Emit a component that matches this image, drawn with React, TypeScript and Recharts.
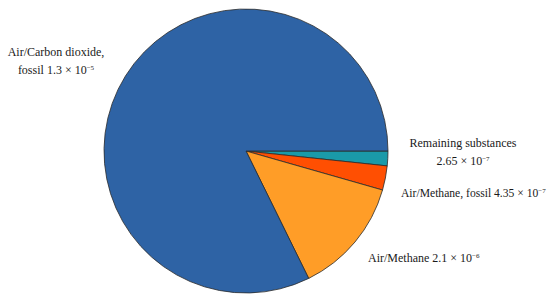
import { PieChart, Pie, Cell } from "recharts";

// contributions in kg CO2 eq (order: clockwise from 3 o'clock)
const names = [
  "Remaining substances",
  "Air/Methane, fossil",
  "Air/Methane",
  "Air/Carbon dioxide, fossil",
];
const values = [2.65e-7, 4.35e-7, 2.1e-6, 1.3e-5];
const mantissas = ["2.65", "4.35", "2.1", "1.3"];
const exponents = ["−7", "−7", "−6", "−5"];
const colors = ["#1a9aa9", "#ff4f02", "#ff9d27", "#2e63a5"];

const data = names.map((name, i) => ({ name, value: values[i] }));

const FONT = "'Liberation Serif', 'DejaVu Serif', serif";

// label placement relative to pie centre
const labelPos = [
  { dx: 217, dy: -4, anchor: "middle", lines: 2, first: "Remaining substances", size: 12 },
  { dx: 155, dy: 46, anchor: "start", lines: 1, first: "Air/Methane, fossil ", size: 11.6 },
  { dx: 122, dy: 111, anchor: "start", lines: 1, first: "Air/Methane ", size: 12 },
  { dx: -190, dy: -95, anchor: "middle", lines: 2, first: "Air/Carbon dioxide,", size: 12 },
];

const Sci = ({ i }: { i: number }) => (
  <>
    <tspan>{mantissas[i]} × 10</tspan>
    <tspan fontSize={7} dy={-4}>{exponents[i]}</tspan>
  </>
);

const renderLabel = (props: any) => {
  const { cx, cy, index } = props;
  const p = labelPos[index];
  const x = cx + p.dx;
  const y = cy + p.dy;
  if (p.lines === 2) {
    const second = index === 3 ? "fossil " : "";
    return (
      <g>
        <text x={x} y={y} textAnchor={p.anchor} fontFamily={FONT} fontSize={p.size} fill="#1a1a1a">
          {p.first}
        </text>
        <text x={x} y={y + 18} textAnchor={p.anchor} fontFamily={FONT} fontSize={p.size} fill="#1a1a1a">
          <tspan>{second}</tspan>
          <Sci i={index} />
        </text>
      </g>
    );
  }
  return (
    <text x={x} y={y} textAnchor={p.anchor} fontFamily={FONT} fontSize={p.size} fill="#1a1a1a">
      <tspan>{p.first}</tspan>
      <Sci i={index} />
    </text>
  );
};

export default function App() {
  return (
    <div style={{ position: "absolute", left: 0, top: 0, width: 550, height: 303, background: "#fff" }}>
      <PieChart width={550} height={303} margin={{ top: 0, right: 0, bottom: 0, left: 0 }}>
        <Pie
          data={data}
          dataKey="value"
          cx={246}
          cy={151}
          outerRadius={142}
          startAngle={0}
          endAngle={-360}
          stroke="#2b2b2b"
          strokeWidth={0.8}
          label={renderLabel}
          labelLine={false}
          isAnimationActive={false}
        >
          {data.map((d, i) => (
            <Cell key={d.name} fill={colors[i]} />
          ))}
        </Pie>
      </PieChart>
    </div>
  );
}
